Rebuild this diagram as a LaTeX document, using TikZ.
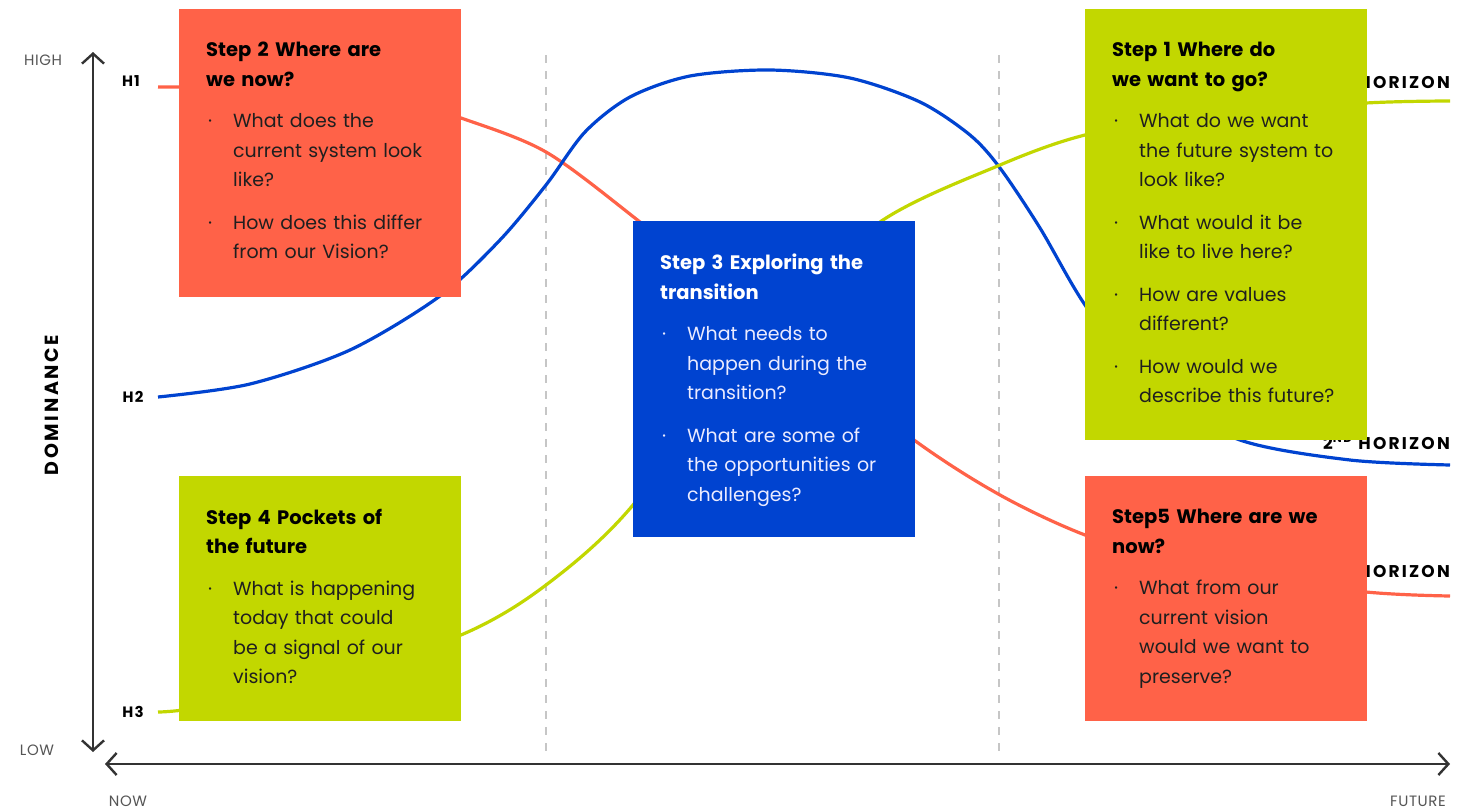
\documentclass[tikz,border=0pt]{standalone}
\usepackage{fontspec}
\setmainfont{Poppins}
\usetikzlibrary{arrows.meta,positioning}

\definecolor{hred}{HTML}{FF6248}
\definecolor{hgreen}{HTML}{C2D700}
\definecolor{hblue}{HTML}{0043D0}
\definecolor{axisgray}{HTML}{333333}
\definecolor{labelgray}{HTML}{555555}

\tikzstyle{stepbox} = [draw=none, anchor=north west, minimum width=282pt, inner sep=0pt]
\tikzstyle{steptext} = [text width=252pt, align=left, inner sep=0pt, text=black!88, font=\fontsize{19}{29.5}\selectfont]
\tikzstyle{hlabel} = [font=\fontsize{15}{15}\selectfont\bfseries\addfontfeatures{LetterSpace=8}]
\tikzstyle{horizon} = [anchor=east, inner sep=0pt, font=\fontsize{17}{17}\selectfont\bfseries\addfontfeatures{LetterSpace=13}]
\tikzstyle{axislabel} = [text=labelgray, font=\fontsize{15}{15}\selectfont\addfontfeatures{LetterSpace=4}]
\tikzstyle{curve} = [line width=3.2pt]
\tikzstyle{axis} = [draw=axisgray, line width=2.4pt, {Straight Barb[length=10pt,width=22pt]}-{Straight Barb[length=10pt,width=22pt]}]
\tikzstyle{divider} = [draw=gray!45, line width=1.3pt, dash pattern=on 8pt off 8pt]

\newcommand{\steptitle}[1]{{\fontsize{19.5}{29.5}\selectfont\bfseries #1\par}}
\newcommand{\bitem}[1]{\par\vspace{12pt}\noindent\makebox[27pt][l]{\hspace{2pt}·\strut}\parbox[t]{225pt}{\raggedright\strut #1\strut}}

\begin{document}
\begin{tikzpicture}[x=1pt,y=-1pt,node distance=33pt and 27pt]
\useasboundingbox (0,0) rectangle (1467,811);

% axes
\coordinate (ytop) at (93,52);
\coordinate (ybot) at (93,752);
\coordinate (xleft) at (105,764);
\coordinate (xright) at (1450,764);
\draw[axis] (ybot) -- (ytop);
\draw[axis] (xright) -- (xleft);

\node[axislabel] (high) at (43,60) {HIGH};
\node[axislabel] (low) at (37,750) {LOW};
\node[axislabel] (now) at (128,801) {NOW};
\node[axislabel] (future) at (1418,801) {FUTURE};
\node[rotate=90, font=\fontsize{19}{19}\selectfont\bfseries\addfontfeatures{LetterSpace=14}] (dom) at (52,405) {DOMINANCE};

\node[hlabel] (h1) at (131,81) {H1};
\node[hlabel] (h2) at (133,397) {H2};
\node[hlabel] (h3) at (133,712) {H3};

% dividers
\coordinate (d1top) at (546,55);
\coordinate (d1bot) at (546,757);
\coordinate (d2top) at (999,55);
\coordinate (d2bot) at (999,757);
\draw[divider] (d1top) -- (d1bot);
\draw[divider] (d2top) -- (d2bot);

% horizon curves
\draw[curve, hred] plot [smooth] coordinates {(158,87) (300,89) (400,100) (461,118) (546,152) (640,222) (780,335) (914,440) (1000,495) (1085,535) (1200,572) (1366,592) (1450,596)};
\draw[curve, hblue] plot [smooth] coordinates {(158,397) (250,384) (350,350) (440,296) (500,240) (546,185) (585,132) (630,97) (690,76) (770,70) (850,78) (920,102) (970,135) (1000,168) (1040,228) (1085,305) (1150,390) (1240,440) (1350,460) (1450,465)};
\draw[curve, hgreen] plot [smooth] coordinates {(158,712) (190,709) (300,690) (461,635) (546,585) (633,505) (760,330) (880,222) (1000,165) (1085,135) (1200,115) (1366,103) (1450,101)};

\node[horizon] (hz3) at (1450,81) {3\textsuperscript{RD} HORIZON};
\node[horizon] (hz2) at (1450,442) {2\textsuperscript{ND} HORIZON};
\node[horizon] (hz1) at (1450,570) {1\textsuperscript{ST} HORIZON};

% step boxes
\node[stepbox, fill=hred, minimum height=288pt] (s2) at (179,9) {};
\node[steptext, below right=of s2.north west] (s2t) {%
\steptitle{\color{black}Step 2 Where are\\we now?}
\bitem{What does the\\current system look\\like?}
\bitem{How does this differ\\from our Vision?}};

\node[stepbox, fill=hgreen, minimum height=245pt] (s4) at (179,476) {};
\node[steptext, below right=of s4.north west] (s4t) {%
\steptitle{\color{black}Step 4 Pockets of\\the future}
\bitem{What is happening\\today that could\\be a signal of our\\vision?}};

\node[stepbox, fill=hblue, minimum height=316pt] (s3) at (633,221) {};
\node[steptext, text=blue!8, below right=of s3.north west] (s3t) {%
\steptitle{\color{white}Step 3 Exploring the\\transition}
\bitem{What needs to\\happen during the\\transition?}
\bitem{What are some of\\the opportunities or\\challenges?}};

\node[stepbox, fill=hgreen, minimum height=431pt] (s1) at (1085,9) {};
\node[steptext, below right=of s1.north west] (s1t) {%
\steptitle{\color{black}Step 1 Where do\\we want to go?}
\bitem{What do we want\\the future system to\\look like?}
\bitem{What would it be\\like to live here?}
\bitem{How are values\\different?}
\bitem{How would we\\describe this future?}};

\node[stepbox, fill=hred, minimum height=245pt] (s5) at (1085,476) {};
\node[steptext, below right=of s5.north west] (s5t) {%
\steptitle{\color{black}Step5 Where are we\\now?}
\bitem{What from our\\current vision\\would we want to\\preserve?}};

\end{tikzpicture}
\end{document}
